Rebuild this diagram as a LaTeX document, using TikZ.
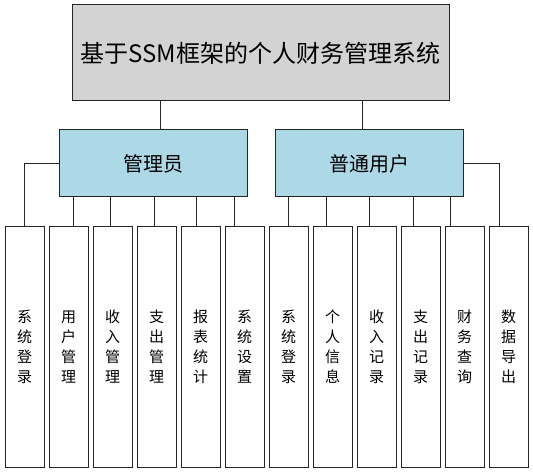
\documentclass[tikz,border=0pt]{standalone}
\usepackage{fontspec}
\newfontfamily\cjk{Noto Sans CJK SC}
\usetikzlibrary{calc}
\definecolor{boxgray}{HTML}{D3D3D3}
\definecolor{boxblue}{HTML}{ADD8E6}
\tikzset{
	frame/.style={draw=black!85, line width=1pt, inner sep=0pt},
	topbox/.style={frame, fill=boxgray, minimum width=377pt, minimum height=96pt, font=\cjk\fontsize{24}{28}\selectfont},
	rolebox/.style={frame, fill=boxblue, minimum width=188pt, minimum height=67pt, font=\cjk\fontsize{20}{24}\selectfont},
	leaf/.style={frame, fill=white, minimum width=39pt, minimum height=240pt, align=center, font=\cjk\fontsize{15}{20}\selectfont},
	link/.style={draw=black!85, line width=1pt}
}

\begin{document}
\begin{tikzpicture}[x=1pt, y=-1pt]
			%%%%% START %%%%%
			\useasboundingbox (0, 0) rectangle (533, 473);
			
			\node[topbox] (sys) at (260.5, 53) {基于SSM框架的个人财务管理系统};
			
			\node[rolebox] (admin) at (153, 163.5) {管理员};
			\node[rolebox] (user) at (369, 163.5) {普通用户};
			
			\foreach \i/\txt in {1/{系\\统\\登\\录}, 2/{用\\户\\管\\理}, 3/{收\\入\\管\\理},
				4/{支\\出\\管\\理}, 5/{报\\表\\统\\计}, 6/{系\\统\\设\\置},
				7/{系\\统\\登\\录}, 8/{个\\人\\信\\息}, 9/{收\\入\\记\\录},
				10/{支\\出\\记\\录}, 11/{财\\务\\查\\询}, 12/{数\\据\\导\\出}}
				\node[leaf] (l\i) at ({24.5+44*(\i-1)}, 347) {\txt};
			
			\draw[link] (sys.south -| 160, 0) -- (admin.north -| 160, 0);
			\draw[link] (sys.south -| 362, 0) -- (user.north -| 362, 0);
			
			\draw[link] (admin.west) -| (l1.north);
			\foreach \i/\x in {2/73, 3/110, 4/154, 5/196, 6/234}
				\draw[link] (admin.south -| \x, 0) -- (l\i.north -| \x, 0);
			
			\foreach \i/\x in {7/288, 8/326, 9/369, 10/413, 11/450}
				\draw[link] (user.south -| \x, 0) -- (l\i.north -| \x, 0);
			\draw[link] (user.east) -| (l12.north -| 499, 0);
			%%%%% END %%%%%
\end{tikzpicture}
\end{document}
